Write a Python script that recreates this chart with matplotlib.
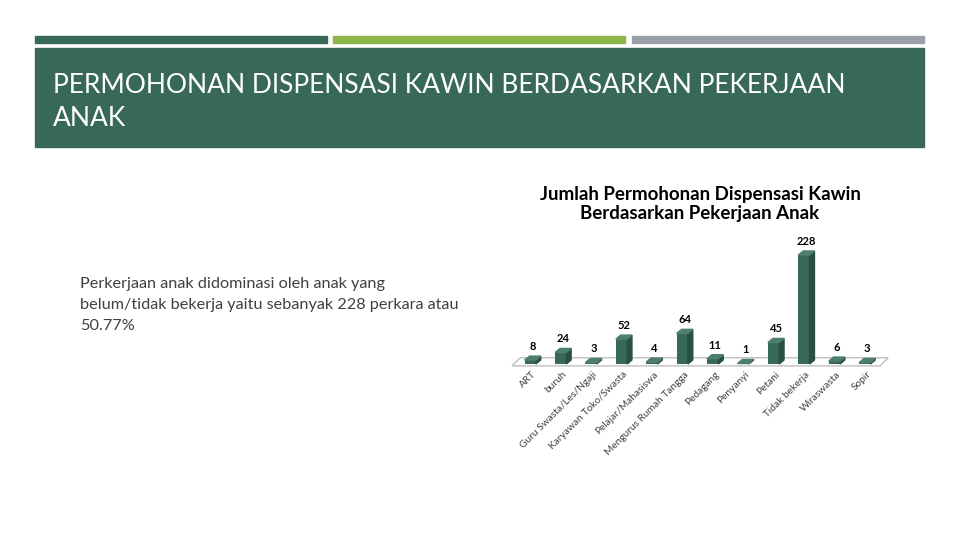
import matplotlib.pyplot as plt
from matplotlib.patches import Rectangle, Polygon

plt.rcParams['font.family'] = ['Lato', 'DejaVu Sans']

# Data
categories = ["ART", "buruh", "Guru Swasta/Les/Ngaji", "Karyawan Toko/Swasta",
              "Pelajar/Mahasiswa", "Mengurus Rumah Tangga", "Pedagang", "Penyanyi",
              "Petani", "Tidak bekerja", "Wiraswasta", "Sopir"]
counts = [8, 24, 3, 52, 4, 64, 11, 1, 45, 228, 6, 3]

slide_title = ["PERMOHONAN DISPENSASI KAWIN BERDASARKAN PEKERJAAN", "ANAK"]
chart_title = "Jumlah Permohonan Dispensasi Kawin\nBerdasarkan Pekerjaan Anak"
body_lines = ["Perkerjaan anak didominasi oleh anak yang",
              "belum/tidak bekerja yaitu sebanyak 228 perkara atau",
              "50.77%"]

dark_green = "#376956"
side_green = "#284f40"
top_green = "#4d7f6c"

fig = plt.figure(figsize=(9.6, 5.4), dpi=100)

# slide decoration in pixel coords
deco = fig.add_axes([0, 0, 1, 1])
deco.set_xlim(0, 960)
deco.set_ylim(540, 0)
deco.axis("off")
deco.add_patch(Rectangle((35, 36), 292, 7, color=dark_green))
deco.add_patch(Rectangle((333, 36), 292, 7, color="#8db54b"))
deco.add_patch(Rectangle((632, 36), 292, 7, color="#9aa0a6"))
deco.add_patch(Rectangle((35, 48), 889, 99, color=dark_green))
for i, line in enumerate(slide_title):
    deco.text(53, 93 + i * 33, line, color="white", fontsize=19, va="baseline", ha="left")
for i, line in enumerate(body_lines):
    deco.text(80, 284 + i * 21, line, color="#404040", fontsize=11.7, va="center", ha="left")
deco.text(700, 204, chart_title, color="black", fontsize=13.5, fontweight="bold",
          ha="center", va="center", linespacing=1.1)

# bar chart
ax = fig.add_axes([515 / 960, 176 / 540, 365 / 960, 240 * 0.478 / 540])
ax.set_xlim(-0.5, len(categories) - 0.5)
ax.set_ylim(0, 240)
ax.axis("off")

w = 0.37
dx, dy = 0.16, 8.5

# floor
floor = Polygon([(-0.6, -4), (11.5, -4), (11.5 + 0.27, -4 + 17), (-0.6 + 0.27, -4 + 17)],
                closed=True, facecolor="white", edgecolor="#bfbfbf", lw=1, clip_on=False)
ax.add_patch(floor)

x = list(range(len(categories)))
bars = ax.bar(x, counts, width=w, color=dark_green, clip_on=False, zorder=3)
for xi, v in zip(x, counts):
    r = xi + w / 2
    l = xi - w / 2
    ax.add_patch(Polygon([(r, 0), (r + dx, dy), (r + dx, v + dy), (r, v)],
                         closed=True, color=side_green, clip_on=False, zorder=3))
    ax.add_patch(Polygon([(l, v), (l + dx, v + dy), (r + dx, v + dy), (r, v)],
                         closed=True, color=top_green, clip_on=False, zorder=3))
    ax.annotate(str(v), (xi + dx / 2, v + dy), xytext=(0, 3), textcoords="offset points",
                ha="center", va="bottom", fontsize=8, fontweight="bold", color="black")

for xi, lab in zip(x, categories):
    ax.text(xi + 0.05, -12, lab, rotation=45, ha="right", va="top",
            rotation_mode="anchor", fontsize=7.3, color="#404040")

fig.savefig("out.png", dpi=100)
